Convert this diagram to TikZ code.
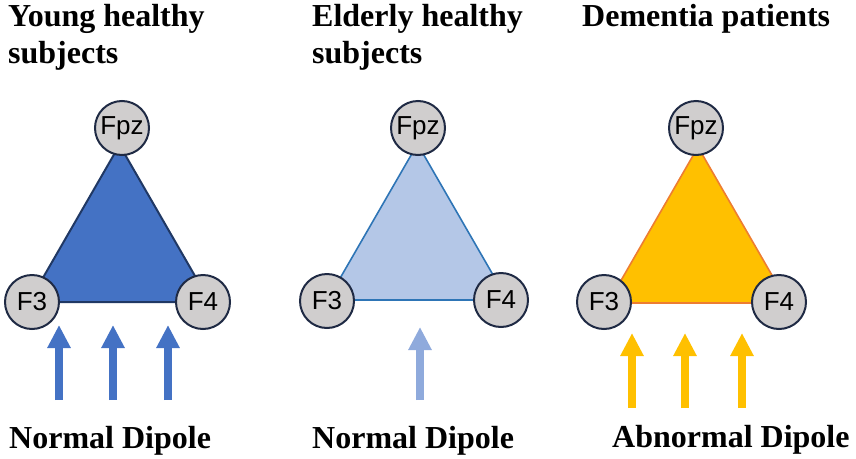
\documentclass[tikz,border=0pt]{standalone}
\usepackage{fontspec}
\setmainfont{Liberation Serif}
\newfontfamily\lsans{Liberation Sans}
\usetikzlibrary{arrows.meta}
\definecolor{navy}{HTML}{1F2A44}
\definecolor{elecgray}{HTML}{D0CECE}
\definecolor{blueA}{HTML}{4472C4}
\definecolor{blueAline}{HTML}{203864}
\definecolor{blueB}{HTML}{B4C7E7}
\definecolor{blueBline}{HTML}{2E75B6}
\definecolor{blueBarrow}{HTML}{8FAADC}
\definecolor{goldC}{HTML}{FFC000}
\definecolor{goldCline}{HTML}{ED7D31}
\begin{document}
\begin{tikzpicture}[x=1pt,y=-1pt,
  elec/.style={circle, draw=navy, line width=2pt, fill=elecgray, minimum size=54pt, inner sep=0pt, font=\lsans\fontsize{26}{26}\selectfont},
  title/.style={anchor=base west, inner sep=0pt, font=\bfseries\fontsize{32}{37}\selectfont},
  dip/.style={line width=8pt, -{Triangle[width=22pt,length=23pt]}},
  tri/.style={line width=2pt, line join=round}]
\useasboundingbox (0,0) rectangle (856,458);

% titles
\node[title] (t1a) at (8,26) {Young healthy};
\node[title] (t1b) at (8,63) {subjects};
\node[title] (t2a) at (312,26) {Elderly healthy};
\node[title] (t2b) at (312,63) {subjects};
\node[title] (t3a) at (582,26) {Dementia patients};

% panel 1
\coordinate (a1) at (29,302);
\coordinate (b1) at (210,302);
\coordinate (c1) at (119.5,145);
\draw[tri, fill=blueA, draw=blueAline] (a1) -- (b1) -- (c1) -- cycle;
\node[elec] (fpz1) at (122,128) {Fpz};
\node[elec] (f31) at (32,302) {F3};
\node[elec] (f41) at (203,302) {F4};

% panel 2
\coordinate (a2) at (327.5,300);
\coordinate (b2) at (507.5,300);
\coordinate (c2) at (417.5,144);
\draw[tri, line width=1.6pt, fill=blueB, draw=blueBline] (a2) -- (b2) -- (c2) -- cycle;
\node[elec] (fpz2) at (418,128) {Fpz};
\node[elec] (f32) at (327,301) {F3};
\node[elec] (f42) at (501,300) {F4};

% panel 3
\coordinate (a3) at (608,303);
\coordinate (b3) at (788,303);
\coordinate (c3) at (698,147);
\draw[tri, line width=1.6pt, fill=goldC, draw=goldCline] (a3) -- (b3) -- (c3) -- cycle;
\node[elec] (fpz3) at (696,128) {Fpz};
\node[elec] (f33) at (604,302) {F3};
\node[elec] (f43) at (779,302) {F4};

% dipole arrows
\coordinate (p1s) at (59,400);  \coordinate (p1e) at (59,325);
\coordinate (p2s) at (113,400); \coordinate (p2e) at (113,325);
\coordinate (p3s) at (168,400); \coordinate (p3e) at (168,325);
\draw[dip, blueA] (p1s) -- (p1e);
\draw[dip, blueA] (p2s) -- (p2e);
\draw[dip, blueA] (p3s) -- (p3e);

\coordinate (q1s) at (420,400); \coordinate (q1e) at (420,327);
\draw[dip, blueBarrow] (q1s) -- (q1e);

\coordinate (r1s) at (632,408); \coordinate (r1e) at (632,333);
\coordinate (r2s) at (685,408); \coordinate (r2e) at (685,333);
\coordinate (r3s) at (742,408); \coordinate (r3e) at (742,333);
\draw[dip, goldC] (r1s) -- (r1e);
\draw[dip, goldC] (r2s) -- (r2e);
\draw[dip, goldC] (r3s) -- (r3e);

% bottom labels
\node[title] (l1) at (9,448) {Normal Dipole};
\node[title] (l2) at (312,448) {Normal Dipole};
\node[title] (l3) at (612,447) {Abnormal Dipole};
\end{tikzpicture}
\end{document}
